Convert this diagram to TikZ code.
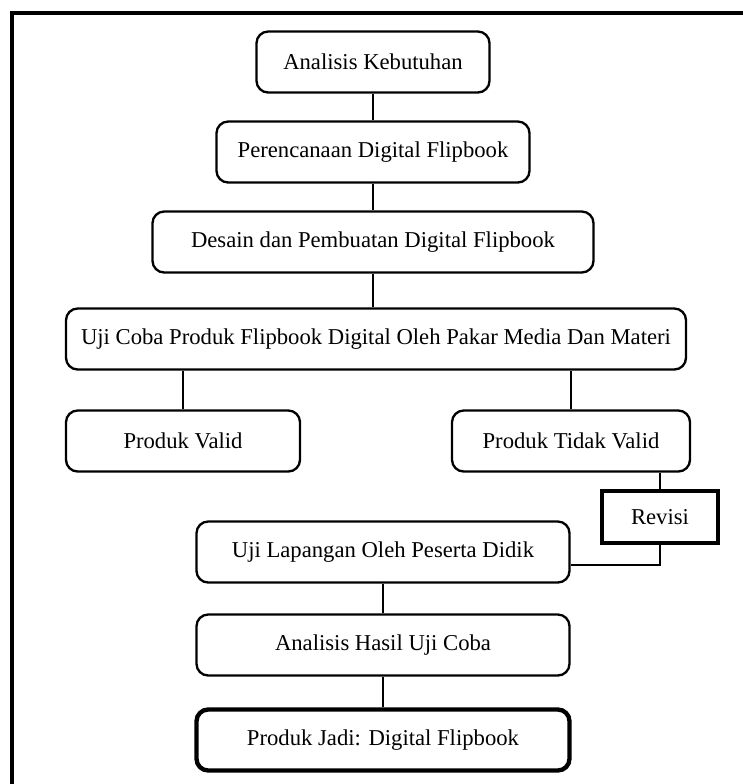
\documentclass[tikz,border=0pt]{standalone}
\usepackage{fontspec}
\setmainfont{Liberation Serif}
\usetikzlibrary{positioning}

\tikzset{
  box/.style={draw, rounded corners=7pt, line width=1.4pt, inner sep=0pt,
    minimum height=36.6pt, font=\fontsize{13.6}{15}\selectfont},
  boldbox/.style={box, line width=2.6pt},
  revbox/.style={draw, line width=2.6pt, inner sep=0pt,
    minimum width=69.6pt, minimum height=31.2pt, font=\fontsize{13.6}{15}\selectfont},
  link/.style={line width=1.4pt}
}

\begin{document}
\begin{tikzpicture}[x=0.6pt,y=-0.6pt]

\useasboundingbox (0,0) rectangle (743,784);

% The frame
\draw[line width=2.4pt] (12,790) -- (12,13) -- (750,13);

% The boxes
\node[box, minimum width=139.8pt] (analisis) at (373,62) {Analisis Kebutuhan};
\node[box, minimum width=187.8pt] (perencanaan) at (373,152) {Perencanaan Digital Flipbook};
\node[box, minimum width=264.6pt] (desain) at (373,242) {Desain dan Pembuatan Digital Flipbook};
\node[box, minimum width=372pt] (ujicoba) at (376,339) {Uji Coba Produk Flipbook Digital Oleh Pakar Media Dan Materi};
\node[box, minimum width=140.4pt] (valid) at (183,441) {Produk Valid};
\node[box, minimum width=142.8pt] (tidakvalid) at (571,441) {Produk Tidak Valid};
\node[revbox] (revisi) at (660,517) {Revisi};
\node[box, minimum width=223.8pt] (ujilapangan) at (383,552) {Uji Lapangan Oleh Peserta Didik};
\node[box, minimum width=223.8pt] (hasil) at (383,645) {Analisis Hasil Uji Coba};
\node[boldbox, minimum width=223.8pt] (jadi) at (383,740) {Produk Jadi: Digital Flipbook};

% The links
\draw[link] (analisis) -- (perencanaan);
\draw[link] (perencanaan) -- (desain);
\draw[link] (desain.south) -- (desain.south |- ujicoba.north);
\draw[link] (valid.north) -- (valid.north |- ujicoba.south);
\draw[link] (tidakvalid.north) -- (tidakvalid.north |- ujicoba.south);
\draw[link] (tidakvalid.south -| revisi.north) -- (revisi.north);
\draw[link] (revisi.south) |- ([yshift=-7.8pt]ujilapangan.east);
\draw[link] (ujilapangan) -- (hasil);
\draw[link] (hasil) -- (jadi);

\end{tikzpicture}
\end{document}
